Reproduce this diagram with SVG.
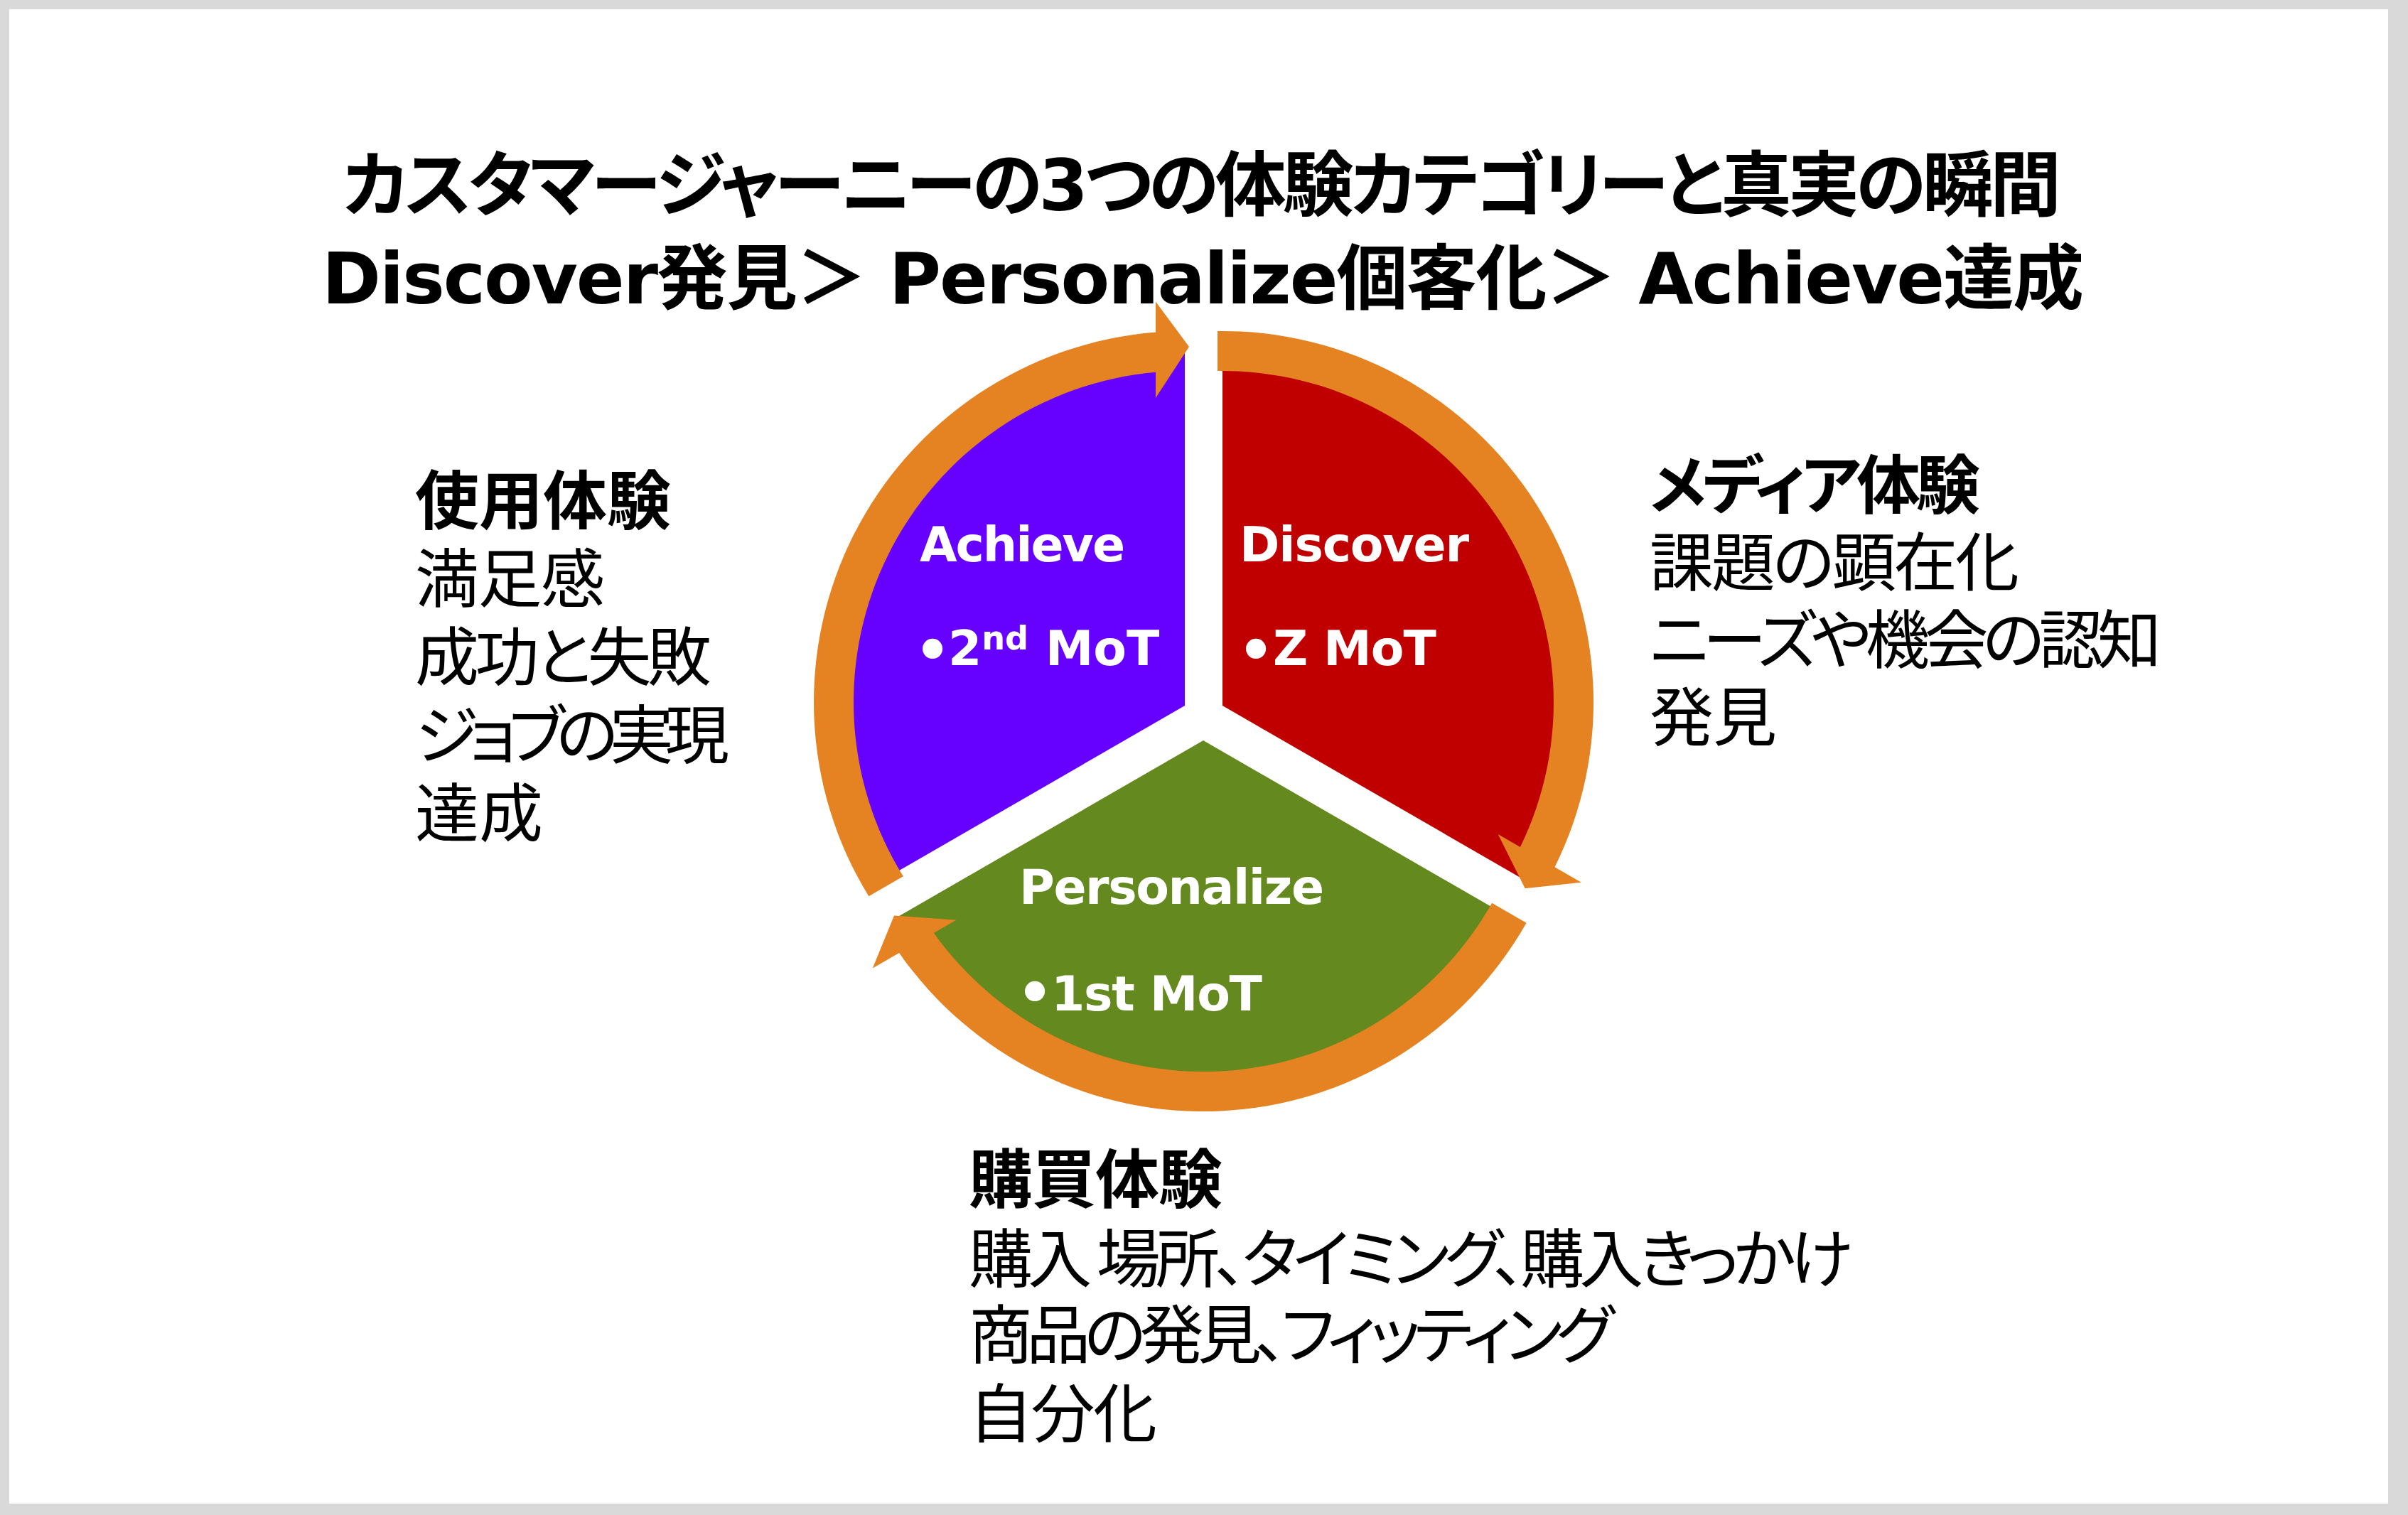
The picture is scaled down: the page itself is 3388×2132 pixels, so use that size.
<svg xmlns="http://www.w3.org/2000/svg" width="3388" height="2132" viewBox="0 0 3388 2132">
  <style>
    .title { font-family: "DejaVu Sans", "Noto Sans CJK JP", sans-serif; font-weight: bold; font-size: 100px; fill: #000; font-feature-settings: "palt" 1; }
    .seg { font-family: "DejaVu Sans", "Noto Sans CJK JP", sans-serif; font-weight: bold; font-size: 68px; fill: #fff; }
    .bul { font-family: "DejaVu Sans", sans-serif; font-weight: bold; font-size: 80px; fill: #fff; text-anchor: middle; }
    .head { font-family: "Noto Sans CJK JP", sans-serif; font-weight: bold; font-size: 90px; fill: #000; font-feature-settings: "palt" 1; }
    .body { font-family: "Noto Sans CJK JP", sans-serif; font-weight: normal; font-size: 90px; fill: #000; font-feature-settings: "palt" 1; }
    .arrow { fill: #E58322; }
  </style>

  <rect x="0" y="0" width="3388" height="2132" fill="#D9D9D9"/>
  <rect x="13" y="13" width="3347" height="2103" fill="#FFFFFF"/>

  <g id="title">
    <text class="title" x="482" y="296" textLength="2418" lengthAdjust="spacing">カスタマージャーニーの3つの体験カテゴリーと真実の瞬間</text>
    <text class="title" x="453" y="427" textLength="2479" lengthAdjust="spacing">Discover発見＞ Personalize個客化＞ Achieve達成</text>
  </g>

  <g id="node-achieve">
    <path d="M1667 993 L1667 493 A500 500 0 0 0 1234 1243 Z" fill="#6600FF"/>
  </g>
  <g id="node-discover">
    <path d="M1720 993 L1720 493 A500 500 0 0 1 2153 1243 Z" fill="#C00000"/>
  </g>
  <g id="node-personalize">
    <path d="M1693 1042 L2126 1292 A500 500 0 0 1 1260 1292 Z" fill="#648A1F"/>
  </g>

  <g id="connectors">
    <path class="arrow" d="M1222.3 1261.3 A522 522 0 0 1 1626 467.6 L1626 424.5 L1673 488 L1626 560 L1626 523.8 A466 466 0 0 0 1270.8 1233.3 Z"/>
    <path class="arrow" d="M1713 466 A522 522 0 0 1 2187.5 1220.2 L2224.8 1241.7 L2145.7 1250.3 L2107.7 1174.1 L2138.9 1192.1 A466 466 0 0 0 1713 522.1 Z"/>
    <path class="arrow" d="M2147.6 1298.7 A522 522 0 0 1 1265.1 1341 L1227.8 1362.6 L1258 1288.5 L1345.2 1294.8 L1313.8 1312.9 A466 466 0 0 0 2099.1 1270.7 Z"/>
  </g>

  <g id="label-achieve">
    <text class="seg" x="1294" y="790" textLength="289" lengthAdjust="spacing">Achieve</text>
    <text class="bul" x="1312" y="943">•</text>
    <text class="seg" x="1334" y="936">2<tspan font-size="46" dy="-22">nd</tspan><tspan dy="22"> MoT</tspan></text>
  </g>
  <g id="label-discover">
    <text class="seg" x="1744" y="790" textLength="323" lengthAdjust="spacing">Discover</text>
    <text class="bul" x="1767" y="943">•</text>
    <text class="seg" x="1791" y="936" textLength="230" lengthAdjust="spacing">Z MoT</text>
  </g>
  <g id="label-personalize">
    <text class="seg" x="1434" y="1272" textLength="429" lengthAdjust="spacing">Personalize</text>
    <text class="bul" x="1456" y="1425">•</text>
    <text class="seg" x="1479" y="1422" textLength="297" lengthAdjust="spacing">1st MoT</text>
  </g>

  <g id="usage-experience">
    <text class="head" x="584" y="737" textLength="360" lengthAdjust="spacing">使用体験</text>
    <text class="body" x="584" y="847" textLength="267" lengthAdjust="spacing">満足感</text>
    <text class="body" x="584" y="957" textLength="417" lengthAdjust="spacing">成功と失敗</text>
    <text class="body" x="584" y="1067" textLength="442" lengthAdjust="spacing">ジョブの実現</text>
    <text class="body" x="584" y="1177" textLength="180" lengthAdjust="spacing">達成</text>
  </g>

  <g id="media-experience">
    <text class="head" x="2321" y="715" textLength="465" lengthAdjust="spacing">メディア体験</text>
    <text class="body" x="2321" y="824" textLength="520" lengthAdjust="spacing">課題の顕在化</text>
    <text class="body" x="2321" y="933" textLength="720" lengthAdjust="spacing">ニーズや機会の認知</text>
    <text class="body" x="2321" y="1042" textLength="179" lengthAdjust="spacing">発見</text>
  </g>

  <g id="purchase-experience">
    <text class="head" x="1363" y="1692" textLength="357" lengthAdjust="spacing">購買体験</text>
    <text class="body" x="1363" y="1804" textLength="1244" lengthAdjust="spacing">購入 場所、タイミング、購入きっかけ</text>
    <text class="body" x="1363" y="1911" textLength="908" lengthAdjust="spacing">商品の発見、フィッティング</text>
    <text class="body" x="1363" y="2022" textLength="265" lengthAdjust="spacing">自分化</text>
  </g>
</svg>
